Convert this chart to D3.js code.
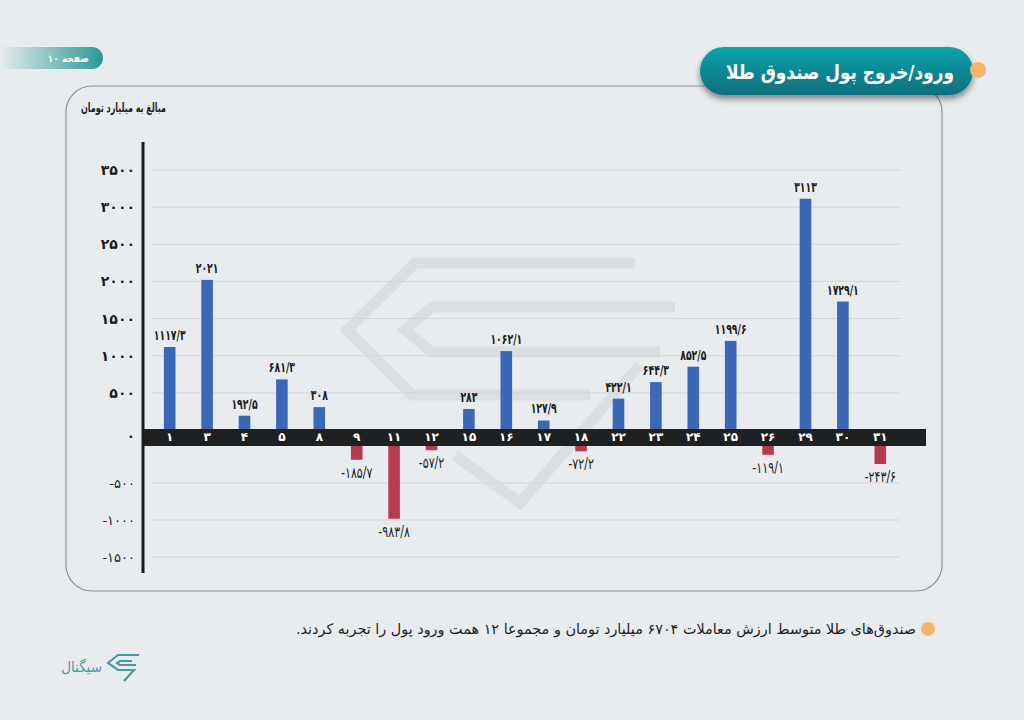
<!DOCTYPE html>
<html>
<head>
<meta charset="utf-8">
<script src="https://cdn.jsdelivr.net/npm/d3@7"></script>
<style>
  html, body { margin: 0; padding: 0; background: #e9ecee; }
  svg { display: block; font-family: "DejaVu Sans Condensed", "DejaVu Sans", sans-serif; }
</style>
</head>
<body>
<script>
// days of the month and net flow (billion toman)
const days = ["1", "3", "4", "5", "8", "9", "11", "12", "15", "16", "17", "18", "22", "23", "24", "25", "26", "29", "30", "31"];
const flows = [1117.3, 2021, 192.5, 681.3, 308, -185.7, -983.8, -57.2, 283, 1062.1, 127.9, -72.2, 422.1, 644.3, 852.5, 1199.6, -119.1, 3113, 1729.1, -243.6];
const posTicks = [0, 500, 1000, 1500, 2000, 2500, 3000, 3500];
const negTicks = [-500, -1000, -1500];

const w = 1024;
const h = 720;

const faDigits = "۰۱۲۳۴۵۶۷۸۹";
function fa(v) {
  return String(v).replace(/[0-9]/g, (c) => faDigits[+c]).replace(".", "/");
}

const svg = d3.select("body").append("svg")
  .attr("width", w)
  .attr("height", h);

const defs = svg.append("defs");
const tg = defs.append("linearGradient").attr("id", "titleGrad")
  .attr("x1", 0).attr("y1", 0).attr("x2", 0).attr("y2", 1);
tg.append("stop").attr("offset", "0%").attr("stop-color", "#0ba3ad");
tg.append("stop").attr("offset", "100%").attr("stop-color", "#0a6f7b");
const pg = defs.append("linearGradient").attr("id", "pageGrad")
  .attr("x1", 0).attr("y1", 0).attr("x2", 1).attr("y2", 0);
pg.append("stop").attr("offset", "0%").attr("stop-color", "#e6eced");
pg.append("stop").attr("offset", "100%").attr("stop-color", "#2b9896");
const sh = defs.append("filter").attr("id", "shadow")
  .attr("x", "-10%").attr("y", "-20%").attr("width", "120%").attr("height", "160%");
sh.append("feDropShadow").attr("dx", 0).attr("dy", 4).attr("stdDeviation", 3)
  .attr("flood-color", "#000").attr("flood-opacity", 0.45);

// page tag
svg.append("path")
  .attr("d", "M0,47 H92 A11,11 0 0 1 92,69 H0 Z")
  .attr("fill", "url(#pageGrad)");
svg.append("text")
  .attr("x", 89).attr("y", 62)
  .attr("direction", "rtl").attr("text-anchor", "start")
  .attr("fill", "#fff").attr("font-size", 10).attr("font-weight", "bold")
  .text("صفحه ۱۰");

// panel
svg.append("rect")
  .attr("x", 66).attr("y", 86)
  .attr("width", 876).attr("height", 505)
  .attr("rx", 26)
  .attr("fill", "none")
  .attr("stroke", "#8c8f91").attr("stroke-width", 1.2);

// watermark
const wm = svg.append("g")
  .attr("fill", "none").attr("stroke", "#dcdfe1")
  .attr("stroke-width", 11).attr("stroke-linejoin", "miter");
const wmLines = [
  [[635, 263], [415, 263], [347, 330], [412, 395], [590, 395]],
  [[675, 307], [432, 307], [405, 330], [432, 352], [660, 352]],
  [[455, 455], [520, 503], [640, 365]]
];
wm.selectAll("path").data(wmLines).enter().append("path")
  .attr("d", (d) => d3.line()(d));

// title pill
svg.append("rect")
  .attr("x", 700).attr("y", 47)
  .attr("width", 273).attr("height", 48)
  .attr("rx", 24)
  .attr("fill", "url(#titleGrad)")
  .attr("filter", "url(#shadow)");
svg.append("text")
  .attr("x", 954).attr("y", 79)
  .attr("direction", "rtl").attr("text-anchor", "start")
  .attr("fill", "#fff").attr("font-size", 20).attr("font-weight", "bold")
  .attr("textLength", 228).attr("lengthAdjust", "spacingAndGlyphs")
  .text("ورود/خروج پول صندوق طلا");
svg.append("circle")
  .attr("cx", 978).attr("cy", 70).attr("r", 8)
  .attr("fill", "#f6b46c");

// y axis title
svg.append("text")
  .attr("x", 166).attr("y", 112)
  .attr("direction", "rtl").attr("text-anchor", "start")
  .attr("fill", "#1d1d1d").attr("font-size", 12.5).attr("font-weight", "bold")
  .attr("textLength", 85).attr("lengthAdjust", "spacingAndGlyphs")
  .text("مبالغ به میلیارد تومان");

// scales
const x = d3.scaleBand()
  .domain(days)
  .range([151, 899])
  .paddingInner(0.69)
  .paddingOuter(0.345);

const bandTop = 430;
const bandBottom = 446;
const yPos = d3.scaleLinear().domain([0, 3500]).range([bandTop, 170]);
const yNeg = d3.scaleLinear().domain([0, -1500]).range([bandBottom, 557]);

// gridlines
const grid = svg.append("g").attr("stroke", "#d3d6d8").attr("stroke-width", 1);
grid.selectAll("line.pos").data(posTicks.filter((d) => d !== 0)).enter().append("line")
  .attr("x1", 152).attr("x2", 900)
  .attr("y1", (d) => yPos(d)).attr("y2", (d) => yPos(d));
grid.selectAll("line.neg").data(negTicks).enter().append("line")
  .attr("x1", 152).attr("x2", 900)
  .attr("y1", (d) => yNeg(d)).attr("y2", (d) => yNeg(d));

// y axis labels
const yAxisPos = d3.axisLeft(yPos).tickValues(posTicks).tickSize(0).tickPadding(8).tickFormat(fa);
const yAxisNeg = d3.axisLeft(yNeg).tickValues(negTicks).tickSize(0).tickPadding(8).tickFormat(fa);

const gyp = svg.append("g").attr("transform", "translate(143,0)").call(yAxisPos);
gyp.select(".domain").remove();
gyp.selectAll("text")
  .attr("font-family", "DejaVu Sans").attr("font-size", 14).attr("font-weight", "bold")
  .attr("fill", "#1d1d1d")
  .attr("dy", (d) => d === 0 ? "0.75em" : "0.32em");

const gyn = svg.append("g").attr("transform", "translate(143,0)").call(yAxisNeg);
gyn.select(".domain").remove();
gyn.selectAll("text")
  .attr("font-family", "DejaVu Sans").attr("font-size", 13)
  .attr("fill", "#1d1d1d");

// bars
svg.selectAll("rect.bar")
  .data(flows)
  .enter()
  .append("rect")
  .attr("class", "bar")
  .attr("x", (d, i) => x(days[i]))
  .attr("width", x.bandwidth())
  .attr("y", (d) => d >= 0 ? yPos(d) : bandBottom)
  .attr("height", (d) => d >= 0 ? yPos(0) - yPos(d) : yNeg(d) - bandBottom)
  .attr("fill", (d) => d >= 0 ? "#3b67b6" : "#b83a4f");

// value labels (squeezed horizontally like the condensed original font)
svg.selectAll("text.val")
  .data(flows)
  .enter()
  .append("text")
  .attr("class", "val")
  .attr("transform", (d, i) => "translate(" + (x(days[i]) + x.bandwidth() / 2) + "," +
    (d >= 0 ? yPos(d) - 7 : yNeg(d) + 18) + ") scale(" + (d >= 0 ? 0.74 : 0.82) + ",1)")
  .attr("text-anchor", "middle")
  .attr("font-size", (d) => d >= 0 ? 14 : 15)
  .attr("font-weight", (d) => d >= 0 ? "bold" : "normal")
  .attr("fill", "#1d1d1d")
  .text((d) => fa(d));

// category band
svg.append("rect")
  .attr("x", 143).attr("y", bandTop - 1)
  .attr("width", 783).attr("height", bandBottom - bandTop + 1)
  .attr("fill", "#1f2021");

const xAxis = d3.axisBottom(x).tickSize(0).tickPadding(0).tickFormat(fa);
const gx = svg.append("g").attr("transform", "translate(0," + (bandTop + 2) + ")").call(xAxis);
gx.select(".domain").remove();
gx.selectAll("text")
  .attr("font-family", "DejaVu Sans").attr("font-size", 12).attr("font-weight", "bold")
  .attr("fill", "#fff");

// y axis line
svg.append("line")
  .attr("x1", 143).attr("x2", 143)
  .attr("y1", 142).attr("y2", 573)
  .attr("stroke", "#1a1a1a").attr("stroke-width", 3);

// footnote
svg.append("circle")
  .attr("cx", 928).attr("cy", 629).attr("r", 7)
  .attr("fill", "#f6b46c");
svg.append("text")
  .attr("x", 916).attr("y", 634)
  .attr("direction", "rtl").attr("text-anchor", "start")
  .attr("fill", "#1d1d1d").attr("font-size", 14.5)
  .attr("textLength", 620).attr("lengthAdjust", "spacingAndGlyphs")
  .text("صندوق‌های طلا متوسط ارزش معاملات ۶۷۰۴ میلیارد تومان و مجموعا ۱۲ همت ورود پول را تجربه کردند.");

// logo
svg.append("text")
  .attr("x", 102).attr("y", 672)
  .attr("direction", "rtl").attr("text-anchor", "start")
  .attr("fill", "#4a9aa0").attr("font-size", 15)
  .text("سیگنال");
svg.append("path")
  .attr("d", "M139,655 L118,655 L108,663 L118,670 L134,670 L124,681 M132,661 L120,661 L117,663 L120,665 L136,665")
  .attr("fill", "none").attr("stroke", "#4a9aa0").attr("stroke-width", 2.2)
  .attr("stroke-linejoin", "miter");
</script>
</body>
</html>
